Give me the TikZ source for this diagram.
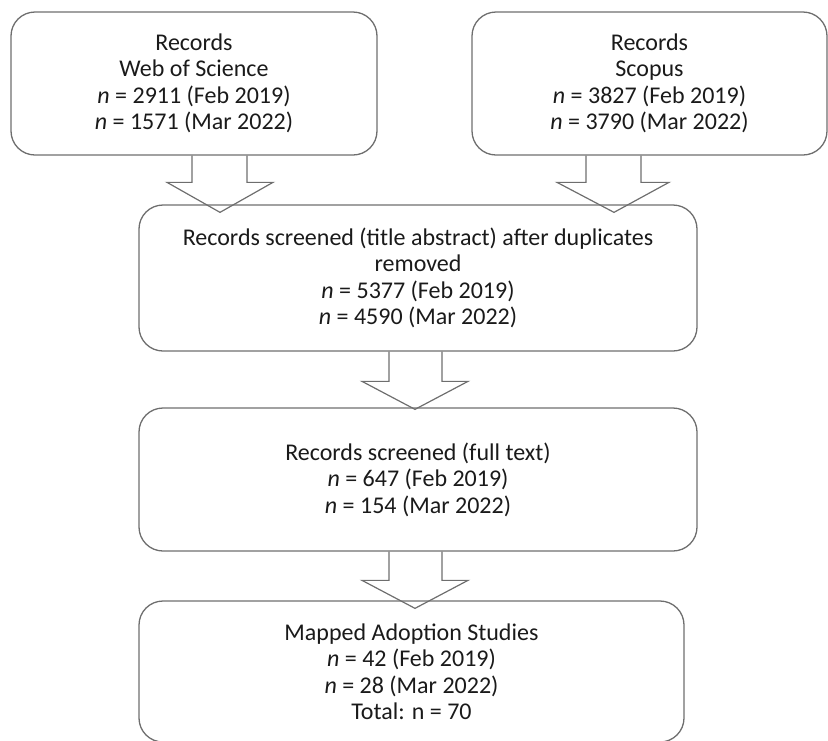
\documentclass[tikz,border=0pt]{standalone}
\usepackage{fontspec}
\setmainfont{Carlito}
\usetikzlibrary{calc}
\definecolor{edge}{HTML}{6E6E6E}
\definecolor{ink}{HTML}{1A1A1A}
\tikzset{
  box/.style={draw=edge, line width=1.3pt, rounded corners=24pt, inner sep=0pt,
    align=center, text=ink, font=\fontsize{24}{26.5}\selectfont},
  barrow/.style={draw=edge, line width=1.2pt, line join=miter}
}
\begin{document}
\begin{tikzpicture}[x=1pt,y=-1pt]
\useasboundingbox (0,0) rectangle (828,740);
\clip (0,0) rectangle (828,740);
\node[box, minimum width=366pt, minimum height=143pt] (b1) at (194,83.5)
  {Records\\Web of Science\\\textit{n} = 2911 (Feb 2019)\\\textit{n} = 1571 (Mar 2022)};
\node[box, minimum width=355pt, minimum height=143pt] (b2) at (649.5,83.5)
  {Records\\Scopus\\\textit{n} = 3827 (Feb 2019)\\\textit{n} = 3790 (Mar 2022)};
\node[box, minimum width=558pt, minimum height=146pt] (b3) at (418,278)
  {Records screened (title abstract) after duplicates\\removed\\\textit{n} = 5377 (Feb 2019)\\\textit{n} = 4590 (Mar 2022)};
\node[box, minimum width=558pt, minimum height=143pt] (b4) at (418,479.5)
  {Records screened (full text)\\\textit{n} = 647 (Feb 2019)\\\textit{n} = 154 (Mar 2022)};
\node[box, minimum width=545pt, minimum height=141pt] (b5) at (411.5,671.5)
  {Mapped Adoption Studies\\\textit{n} = 42 (Feb 2019)\\\textit{n} = 28 (Mar 2022)\\Total: n = 70};
% block arrows
\draw[barrow] let \p1=(b1.south), \p2=(b3.north) in
  (192pt,\y1) -- (192pt,\y2+22pt) -- (167pt,\y2+22pt) -- (220pt,\y2-8pt)
  -- (273pt,\y2+22pt) -- (247pt,\y2+22pt) -- (247pt,\y1);
\draw[barrow] let \p1=(b2.south), \p2=(b3.north) in
  (586pt,\y1) -- (586pt,\y2+22pt) -- (557pt,\y2+22pt) -- (614pt,\y2-8pt)
  -- (669pt,\y2+22pt) -- (641pt,\y2+22pt) -- (641pt,\y1);
\draw[barrow] let \p1=(b3.south), \p2=(b4.north) in
  (389pt,\y1) -- (389pt,\y2+26pt) -- (362pt,\y2+26pt) -- (415pt,\y2-2pt)
  -- (468pt,\y2+26pt) -- (442pt,\y2+26pt) -- (442pt,\y1);
\draw[barrow] let \p1=(b4.south), \p2=(b5.north) in
  (389pt,\y1) -- (389pt,\y2+20pt) -- (362pt,\y2+20pt) -- (415pt,\y2-8pt)
  -- (468pt,\y2+20pt) -- (442pt,\y2+20pt) -- (442pt,\y1);
\end{tikzpicture}
\end{document}
